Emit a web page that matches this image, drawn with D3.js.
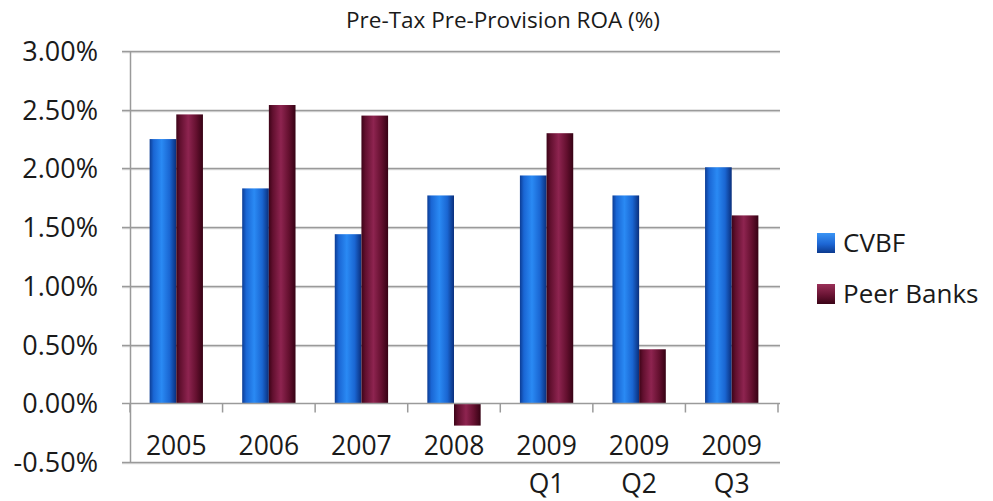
<!DOCTYPE html>
<html>
<head>
<meta charset="utf-8">
<script src="https://cdn.jsdelivr.net/npm/d3@7/dist/d3.min.js"></script>
<style>
  html, body { margin: 0; padding: 0; background: #ffffff; }
  svg { display: block; }
  text { font-family: "Open Sans", Lato, sans-serif; fill: #1a1a1a; }
</style>
</head>
<body>
<div id="chart"></div>
<script>
// Chart data
const categories = ["2005", "2006", "2007", "2008", "2009 Q1", "2009 Q2", "2009 Q3"];
const seriesNames = ["CVBF", "Peer Banks"];
const cvbf = [2.25, 1.83, 1.44, 1.77, 1.94, 1.77, 2.01];
const peerBanks = [2.46, 2.54, 2.45, -0.19, 2.30, 0.46, 1.60];
const yTicks = [3.0, 2.5, 2.0, 1.5, 1.0, 0.5, 0.0, -0.5];
const titleText = "Pre-Tax Pre-Provision ROA (%)";

const W = 993, H = 501;
const svg = d3.select("#chart").append("svg").attr("width", W).attr("height", H);

const plotLeft = 130, plotRight = 778, plotTop = 51, plotBottom = 462;

const y = d3.scaleLinear().domain([-0.5, 3.0]).range([plotBottom, plotTop]);
const x = d3.scaleBand().domain(categories).range([plotLeft, plotRight])
  .paddingInner(0.424).paddingOuter(0.212);
const x1 = d3.scaleBand().domain(seriesNames).range([0, x.bandwidth()]);

// Percent labels with a plain hyphen for negatives
const pct = d3.formatLocale({ decimal: ".", thousands: ",", grouping: [3], currency: ["", ""], minus: "-" }).format(".2f");

// Cylinder-like shading for the bars
const defs = svg.append("defs");
function grad(id, vertical, stops) {
  const g = defs.append("linearGradient").attr("id", id)
    .attr("x1", "0%").attr("y1", "0%")
    .attr("x2", vertical ? "0%" : "100%").attr("y2", vertical ? "100%" : "0%");
  stops.forEach(s => g.append("stop").attr("offset", s[0]).attr("stop-color", s[1]));
}
grad("gBlue", false, [["0%", "#0c3c94"], ["15%", "#1a66d4"], ["45%", "#2a8af4"], ["75%", "#1a66d2"], ["100%", "#0a2f7c"]]);
grad("gRed", false, [["0%", "#3d0418"], ["15%", "#62102f"], ["45%", "#8e2450"], ["75%", "#64102f"], ["100%", "#360214"]]);
grad("lBlue", true, [["0%", "#3a94f4"], ["55%", "#1d66d4"], ["100%", "#0c3a8e"]]);
grad("lRed", true, [["0%", "#9a3058"], ["55%", "#6a1434"], ["100%", "#3a0416"]]);
const fills = { "CVBF": "url(#gBlue)", "Peer Banks": "url(#gRed)" };
const legendFills = { "CVBF": "url(#lBlue)", "Peer Banks": "url(#lRed)" };

// Title
svg.append("text").attr("x", 503).attr("y", 28).attr("text-anchor", "middle")
  .style("font-size", "22.5px").text(titleText);

// Gridlines and y tick labels
const grid = svg.append("g");
yTicks.forEach(t => {
  const yy = Math.round(y(t)) + 0.5;
  if (t !== 0) {
    grid.append("line").attr("x1", plotLeft - 8).attr("x2", plotRight + 2)
      .attr("y1", yy + 1).attr("y2", yy + 1).attr("stroke", "#dcdcdc").attr("stroke-width", 1.5);
    grid.append("line").attr("x1", plotLeft - 8).attr("x2", plotRight + 2)
      .attr("y1", yy).attr("y2", yy).attr("stroke", "#9a9a9a").attr("stroke-width", 1.5);
  } else {
    grid.append("line").attr("x1", plotLeft - 8).attr("x2", plotLeft)
      .attr("y1", yy).attr("y2", yy).attr("stroke", "#9a9a9a").attr("stroke-width", 1.5);
  }
  svg.append("text").attr("x", 98).attr("y", yy).attr("dy", "0.36em")
    .attr("text-anchor", "end").style("font-size", "27px")
    .text(pct(t) + "%");
});

// Vertical axis line
svg.append("line").attr("x1", plotLeft + 0.5).attr("x2", plotLeft + 0.5)
  .attr("y1", plotTop).attr("y2", plotBottom).attr("stroke", "#9a9a9a").attr("stroke-width", 1.5);

// Bars
const rows = categories.map((c, i) => ({ cat: c, vals: [
  { key: "CVBF", v: cvbf[i] }, { key: "Peer Banks", v: peerBanks[i] }] }));
const groups = svg.append("g").selectAll("g").data(rows).join("g")
  .attr("transform", d => `translate(${x(d.cat)},0)`);
groups.selectAll("rect").data(d => d.vals).join("rect")
  .attr("x", d => x1(d.key))
  .attr("width", x1.bandwidth())
  .attr("y", d => y(Math.max(0, d.v)))
  .attr("height", d => Math.abs(y(d.v) - y(0)))
  .attr("fill", d => fills[d.key]);

// Zero line with category ticks
const zy = Math.round(y(0)) + 0.5;
svg.append("line").attr("x1", plotLeft).attr("x2", plotRight + 2)
  .attr("y1", zy).attr("y2", zy).attr("stroke", "#9a9a9a").attr("stroke-width", 1.5);
const step = x.step();
d3.range(categories.length + 1).forEach(i => {
  const xx = plotLeft + i * step;
  svg.append("line").attr("x1", xx).attr("x2", xx).attr("y1", zy).attr("y2", zy + 9)
    .attr("stroke", "#9a9a9a").attr("stroke-width", 1.5);
});

// Category labels (year on the first line, quarter on the second)
categories.forEach(c => {
  const cx = x(c) + x.bandwidth() / 2;
  c.split(" ").forEach((p, j) => {
    svg.append("text").attr("x", cx).attr("y", 455 + j * 38)
      .attr("text-anchor", "middle").style("font-size", "26.5px").text(p);
  });
});

// Legend
const legend = svg.append("g");
seriesNames.forEach((s, i) => {
  const ly = 233 + i * 51;
  legend.append("rect").attr("x", 817).attr("y", ly).attr("width", 18).attr("height", 20)
    .attr("fill", legendFills[s]);
  legend.append("text").attr("x", 843).attr("y", ly + 10).attr("dy", "0.36em")
    .style("font-size", "26px").text(s);
});
</script>
</body>
</html>
